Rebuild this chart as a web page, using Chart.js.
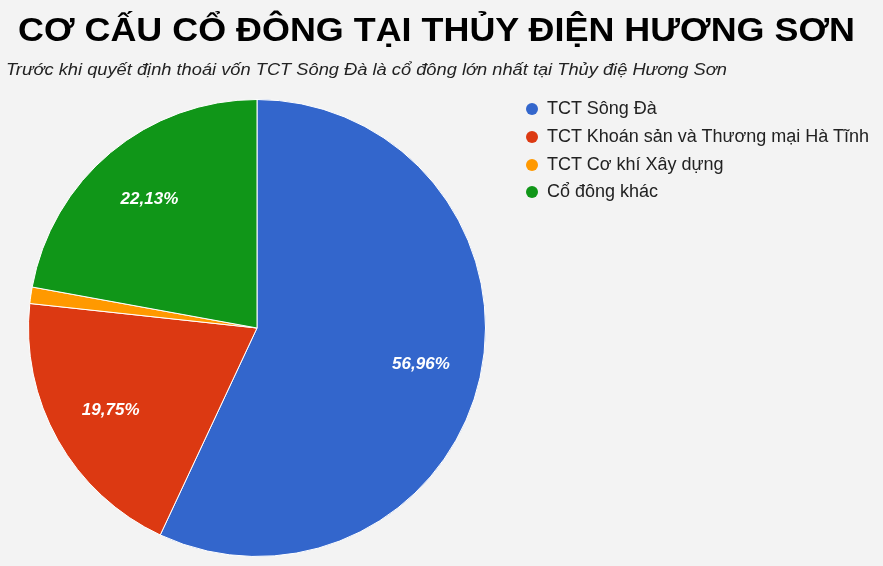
<!DOCTYPE html>
<html>
<head>
<meta charset="utf-8">
<script src="https://cdn.jsdelivr.net/npm/chart.js@4"></script>
<style>
  html, body { margin:0; padding:0; background:#f3f3f3; }
  body { width:883px; height:566px; position:relative; overflow:hidden; font-family:Arial, "Liberation Sans", sans-serif; }
  #title { position:absolute; left:18px; top:12px; line-height:1; font-family:"Liberation Sans", Arial, sans-serif; font-weight:bold; font-size:34px; color:#000; white-space:nowrap; transform-origin:0 0; }
  #subtitle { position:absolute; left:6px; top:61px; font-style:italic; font-size:16px; color:#222; white-space:nowrap; transform-origin:0 0; }
  #chartBox { position:absolute; left:0; top:0; width:883px; height:566px; }
  #legend { position:absolute; left:526px; top:97px; list-style:none; margin:0; padding:0; font-family:"Liberation Sans", Arial, sans-serif; font-size:18px; color:#222; }
  #legend li { height:27.8px; line-height:22px; white-space:nowrap; }
  #legend span.dot { display:inline-block; width:12px; height:12px; border-radius:50%; margin-right:9px; vertical-align:-1px; }
</style>
</head>
<body>
<div id="chartBox"><canvas id="pie"></canvas></div>
<div id="title">CƠ CẤU CỔ ĐÔNG TẠI THỦY ĐIỆN HƯƠNG SƠN</div>
<div id="subtitle">Trước khi quyết định thoái vốn TCT Sông Đà là cổ đông lớn nhất tại Thủy điệ Hương Sơn</div>
<ul id="legend"></ul>
<script>
// data
const labels = ['TCT Sông Đà', 'TCT Khoán sản và Thương mại Hà Tĩnh', 'TCT Cơ khí Xây dựng', 'Cổ đông khác'];
const shares = [56.96, 19.75, 1.16, 22.13];
const colors = ['#3366cc', '#dc3912', '#ff9900', '#109618'];
const shownLabels = ['56,96%', '19,75%', '', '22,13%'];

function qs(s){return document.querySelector(s)}

// stretch the headings to the width they have in the picture
function fitWidth(el, w){
  const nat = el.getBoundingClientRect().width;
  el.style.transform = 'scaleX(' + (w/nat) + ')';
}
fitWidth(qs('#title'), 837);
fitWidth(qs('#subtitle'), 721);

// legend as html list
const ul = qs('#legend');
labels.forEach((l,i)=>{
  const li=document.createElement('li');
  li.innerHTML = `<span class="dot" style="background:${colors[i]}"></span>${l}`;
  ul.appendChild(li);
});

// draw percentage text inside the slices
const sliceText = {
  id:'sliceText',
  afterDatasetsDraw(chart){
    const ctx=chart.ctx, meta=chart.getDatasetMeta(0);
    ctx.save();
    ctx.fillStyle='#fff';
    ctx.font='italic bold 17px Arial, "Liberation Sans", sans-serif';
    ctx.textAlign='center'; ctx.textBaseline='middle';
    meta.data.forEach((arc,i)=>{
      if(!shownLabels[i]) return;
      const mid=(arc.startAngle+arc.endAngle)/2, r=arc.outerRadius*0.735;
      ctx.fillText(shownLabels[i], arc.x+Math.cos(mid)*r, arc.y+Math.sin(mid)*r);
    });
    ctx.restore();
  }
};

Chart.defaults.animation=false;
new Chart(qs('#pie').getContext('2d'),{
  type:'pie',
  data:{labels:labels,datasets:[{data:shares,backgroundColor:colors,borderColor:'#ffffff',borderWidth:1,hoverOffset:0}]},
  options:{
    responsive:true,maintainAspectRatio:false,
    layout:{padding:{top:99,bottom:9,left:28,right:397}},
    plugins:{legend:{display:false},tooltip:{enabled:false}}
  },
  plugins:[sliceText]
});
</script>
</body>
</html>
